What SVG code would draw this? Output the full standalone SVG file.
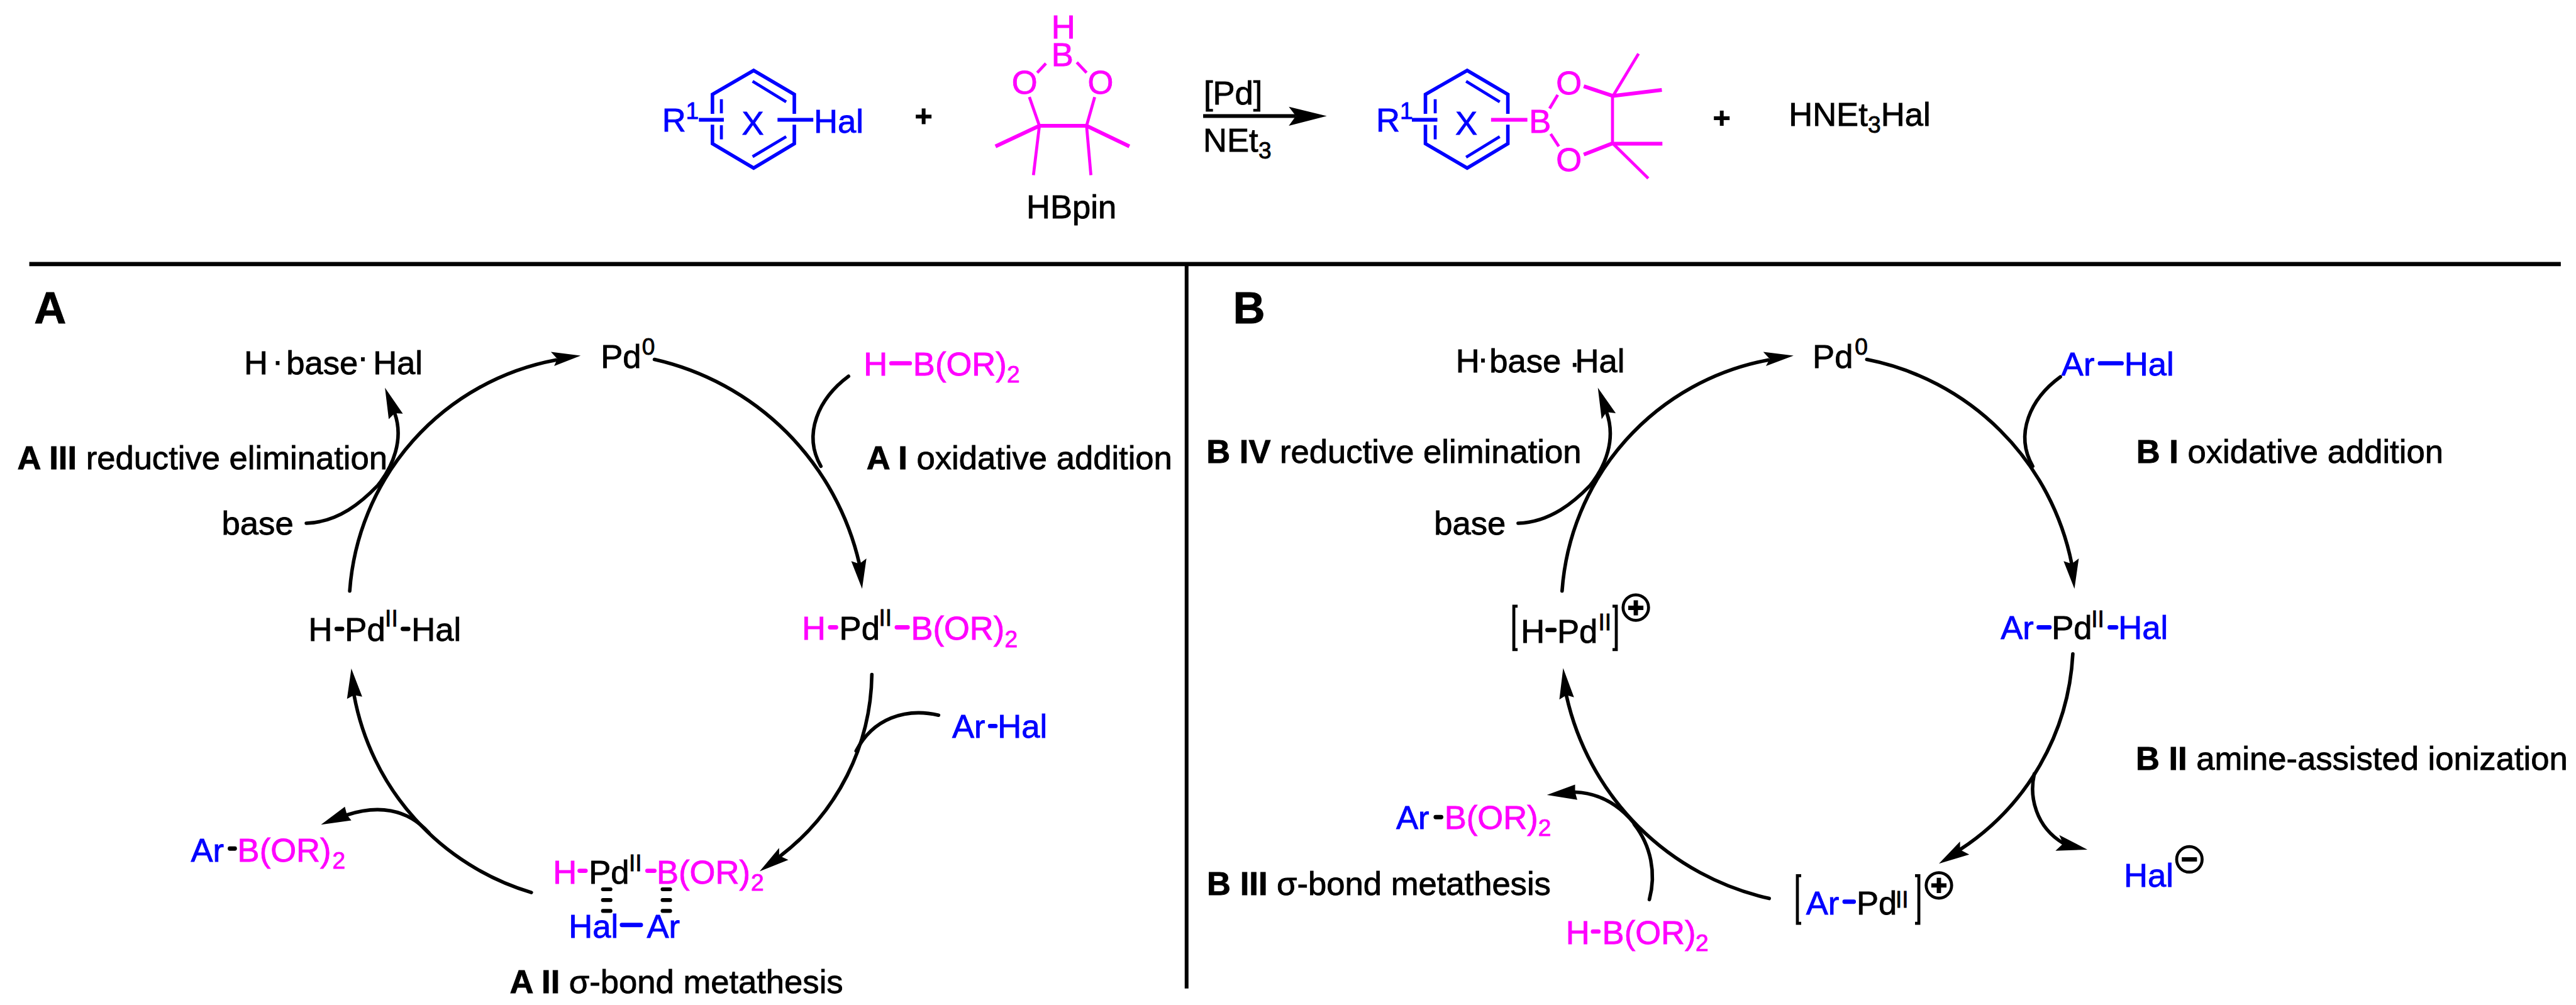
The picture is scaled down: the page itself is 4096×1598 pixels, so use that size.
<svg xmlns="http://www.w3.org/2000/svg" width="4096" height="1598" viewBox="0 0 4096 1598">
<style>
text{font-family:"Liberation Sans",Arial,sans-serif;font-size:61px;fill:#000;stroke:#000;stroke-width:1}
.bl{fill:#00f;stroke:#00f}.mg{fill:#f0f;stroke:#f0f}
.s{font-size:43px}
.h{font-size:82px;font-weight:bold}
.bd{font-weight:bold}
line,.ln{fill:none;stroke:#000;stroke-width:6;stroke-linecap:round}
.k{stroke:#000}.lB{stroke:#00f}.lM{stroke:#f0f}
line.th{stroke-width:7;stroke-linecap:butt}
line.tn{stroke-width:5.500;stroke-linecap:butt}
line.d{stroke-width:8;stroke-linecap:round}
.a{fill:none;stroke:#000;stroke-width:6.500;stroke-linecap:round}
.c{fill:none;stroke:#000;stroke-width:5.500}
.hd{fill:#000;stroke:none}
.r{fill:none;stroke:#00f;stroke-width:6.500;stroke-linejoin:miter}
.sg{fill:none;stroke:#000;stroke-width:8;stroke-linecap:butt}
.dh{fill:none;stroke:#000;stroke-width:7;stroke-linecap:round}
</style>
<g transform="scale(0.86213)">
<rect x="0" y="0" width="4751" height="1854" fill="#fff"/>

<g id="rules">
<line x1="54" y1="487" x2="4723" y2="487" style="stroke-width:8;stroke-linecap:butt"/>
<line x1="2188.500" y1="487" x2="2188.500" y2="1823" style="stroke-width:7;stroke-linecap:butt"/>
</g>

<g id="aryl-halide">
<path class="r" d="M1314 210V174L1390 130L1465 174V210M1314 230V265L1390 310L1465 265V230"/>
<line class="lB tn" x1="1388" y1="150" x2="1450" y2="188"/>
<line class="lB tn" x1="1388" y1="289" x2="1450" y2="252"/>
<line class="lB tn" x1="1330.500" y1="183" x2="1330.500" y2="209"/>
<line class="lB tn" x1="1330.500" y1="231" x2="1330.500" y2="257"/>
<line class="lB th" x1="1289" y1="221" x2="1335" y2="221"/>
<line class="lB th" x1="1434" y1="221" x2="1500" y2="221"/>
<text class="bl" x="1221" y="243">R</text><text class="bl s" x="1265" y="219">1</text>
<text class="bl" x="1368" y="248">X</text>
<text class="bl" x="1501" y="245">Hal</text>
</g>

<g id="plus-1"><line class="k th" x1="1689" y1="215" x2="1718" y2="215"/><line class="k th" x1="1703.500" y1="200" x2="1703.500" y2="229"/></g>

<g id="hbpin">
<text class="mg" x="1939" y="71">H</text>
<text class="mg" x="1939" y="122">B</text>
<text class="mg" x="1866" y="173">O</text>
<text class="mg" x="2006" y="173">O</text>
<line class="lM tn" x1="1929" y1="117" x2="1913" y2="134"/>
<line class="lM tn" x1="1986" y1="115" x2="2004" y2="134"/>
<line class="lM tn" x1="1898.500" y1="179" x2="1917" y2="232"/>
<line class="lM tn" x1="2019" y1="179" x2="2004" y2="232"/>
<line class="lM th" x1="1917" y1="232" x2="2004" y2="232"/>
<line class="lM th" x1="1917" y1="232" x2="1836" y2="270"/>
<line class="lM tn" x1="1917" y1="232" x2="1906" y2="323"/>
<line class="lM th" x1="2004" y1="232" x2="2083" y2="270"/>
<line class="lM tn" x1="2004" y1="232" x2="2012" y2="323"/>
<text x="1893" y="402">HBpin</text>
</g>

<g id="conditions">
<text x="2220" y="192">[Pd]</text>
<text x="2219" y="280">NEt</text><text class="s" x="2321" y="292">3</text>
</g>

<g id="boryl-arene">
<path class="r" d="M2629 210V174L2706 130L2781 174V210M2629 230V265L2706 310L2781 265V230"/>
<line class="lB tn" x1="2704" y1="150" x2="2766" y2="188"/>
<line class="lB tn" x1="2704" y1="290" x2="2766" y2="252"/>
<line class="lB tn" x1="2647" y1="183" x2="2647" y2="209"/>
<line class="lB tn" x1="2647" y1="231" x2="2647" y2="257"/>
<line class="lB th" x1="2604" y1="221" x2="2651" y2="221"/>
<line class="lM th" x1="2750" y1="221" x2="2817" y2="221"/>
<text class="bl" x="2538" y="243">R</text><text class="bl s" x="2582" y="219">1</text>
<text class="bl" x="2684" y="248">X</text>
<text class="mg" x="2820" y="245">B</text>
<text class="mg" x="2870" y="174">O</text>
<text class="mg" x="2870" y="316">O</text>
<line class="lM tn" x1="2873" y1="175" x2="2858" y2="200"/>
<line class="lM tn" x1="2860" y1="247" x2="2875" y2="270"/>
<line class="lM th" x1="2921" y1="159" x2="2975" y2="177"/>
<line class="lM th" x1="2921" y1="285" x2="2975" y2="264"/>
<line class="lM tn" x1="2974" y1="177" x2="2974" y2="264"/>
<line class="lM tn" x1="2975" y1="177" x2="3022" y2="99"/>
<line class="lM th" x1="2975" y1="177" x2="3065" y2="166"/>
<line class="lM th" x1="2975" y1="265" x2="3066" y2="265"/>
<line class="lM tn" x1="2975" y1="265" x2="3040" y2="329"/>
</g>

<g id="plus-2"><line class="k th" x1="3161" y1="218" x2="3190" y2="218"/><line class="k th" x1="3175.500" y1="204" x2="3175.500" y2="232"/></g>

<g id="hnet3hal"><text x="3299" y="232">HNEt</text><text class="s" x="3445" y="245">3</text><text x="3469" y="232">Hal</text></g>

<g id="connectors">
<line class="k th" x1="2219" y1="214" x2="2390" y2="214"/>
<polygon class="hd" points="2447,214 2377,197 2390,214 2377,232"/>

<path class="a" d="M1207 663A501 501 0 0 1 1585 1040"/>
<polygon class="hd" points="1590,1086 1570,1035 1585,1040 1598,1030"/>
<path class="a" d="M1565 694C1510 735 1480 800 1514 860"/>
<path class="a" d="M1608 1244A428 428 0 0 1 1440 1578"/>
<polygon class="hd" points="1401,1607 1437,1564 1437,1578 1454,1586"/>
<path class="a" d="M1731 1319C1670 1305 1610 1325 1579 1385"/>
<path class="a" d="M980 1646A468 468 0 0 1 653 1282"/>
<polygon class="hd" points="648,1233 668,1285 653,1282 640,1289"/>
<path class="a" d="M791 1536C750 1490 695 1485 640 1503"/>
<polygon class="hd" points="592,1521 636,1488 640,1503 648,1513"/>
<path class="a" d="M645 1090A467 467 0 0 1 1025 664"/>
<polygon class="hd" points="1071,656 1016,649 1028,662 1022,675"/>
<path class="a" d="M565 965C625 963 668 925 697 895C725 860 745 810 728 762"/>
<polygon class="hd" points="710,715 743,763 728,762 717,773"/>

<path class="a" d="M3443 663A480 480 0 0 1 3821 1040"/>
<polygon class="hd" points="3826,1086 3806,1035 3821,1040 3834,1030"/>
<path class="a" d="M3800 695C3745 735 3715 800 3749 860"/>
<path class="a" d="M3823 1206A460 460 0 0 1 3615 1567"/>
<polygon class="hd" points="3576,1593 3615,1552 3615,1567 3632,1576"/>
<path class="a" d="M3752 1427C3742 1470 3755 1525 3805 1555"/>
<polygon class="hd" points="3850,1567 3798,1540 3805,1556 3791,1569"/>
<path class="a" d="M3263 1657A493 493 0 0 1 2889 1283"/>
<polygon class="hd" points="2883,1232 2903,1286 2889,1282 2876,1290"/>
<path class="a" d="M3021 1528C2990 1485 2950 1463 2905 1461"/>
<polygon class="hd" points="2853,1466 2905,1447 2905,1461 2909,1475"/>
<path class="a" d="M3042 1659C3055 1610 3045 1560 3014 1520"/>
<path class="a" d="M2881 1090A467 467 0 0 1 3261 664"/>
<polygon class="hd" points="3308,656 3252,649 3264,662 3257,675"/>
<path class="a" d="M2800 965C2860 963 2904 925 2933 895C2961 860 2981 810 2963 760"/>
<polygon class="hd" points="2947,715 2980,762 2963,760 2954,773"/>
</g>

<g id="label-A"><text class="h" x="63" y="596">A</text></g>
<g id="a-pd0"><text x="1108" y="678">Pd</text><text class="s" x="1184" y="654">0</text></g>
<g id="a-hbaseh"><text x="450" y="690">H</text><text x="502" y="686">·</text><text x="528" y="690">base</text><text x="659" y="679">·</text><text x="688" y="690">Hal</text></g>
<g id="a-hb"><text class="mg" x="1593" y="692">H</text><line class="lM d" x1="1644" y1="670" x2="1678" y2="670"/><text class="mg" x="1684" y="692">B(OR)</text><text class="mg s" x="1857" y="705">2</text></g>
<g id="a-step1"><text x="1598" y="865"><tspan class="bd">A I</tspan> oxidative addition</text></g>
<g id="a-step3"><text x="32" y="865"><tspan class="bd">A III</tspan> reductive elimination</text></g>
<g id="a-base"><text x="409" y="986">base</text></g>
<g id="a-hpdhal"><text x="569" y="1182">H</text><line class="k d" x1="621" y1="1160" x2="631" y2="1160"/><text x="636" y="1182">Pd</text><text class="s" x="710" y="1155">II</text><line class="k d" x1="743" y1="1160" x2="753" y2="1160"/><text x="759" y="1182">Hal</text></g>
<g id="a-hpdb"><text class="mg" x="1479" y="1180">H</text><line class="lM d" x1="1531" y1="1157" x2="1542" y2="1157"/><text x="1548" y="1180">Pd</text><text class="s" x="1621" y="1154">II</text><line class="lM d" x1="1654" y1="1157" x2="1674" y2="1157"/><text class="mg" x="1680" y="1180">B(OR)</text><text class="mg s" x="1853" y="1193">2</text></g>
<g id="a-arhal"><text class="bl" x="1756" y="1361">Ar</text><line class="lB d" x1="1826" y1="1339" x2="1836" y2="1339"/><text class="bl" x="1840" y="1361">Hal</text></g>
<g id="a-arb"><text class="bl" x="352" y="1589">Ar</text><line class="k d" x1="424" y1="1565" x2="433" y2="1565"/><text class="mg" x="438" y="1589">B(OR)</text><text class="mg s" x="613" y="1602">2</text></g>
<g id="a-ts">
<text class="mg" x="1020" y="1630">H</text><line class="lM d" x1="1069" y1="1606" x2="1080" y2="1606"/>
<text x="1086" y="1630">Pd</text><text class="s" x="1160" y="1606">II</text><line class="lM d" x1="1194" y1="1606" x2="1207" y2="1606"/>
<text class="mg" x="1211" y="1630">B(OR)</text><text class="mg s" x="1385" y="1643">2</text>
<path d="M1112 1640h14M1112 1660h14M1112 1680h14M1222 1640h14M1222 1660h14M1222 1680h14" class="dh"/>
<text class="bl" x="1049" y="1729">Hal</text><line class="lB d" x1="1147" y1="1706" x2="1182" y2="1706"/><text class="bl" x="1193" y="1729">Ar</text>
</g>
<g id="a-step2"><text x="940" y="1832"><tspan class="bd">A II</tspan> σ-bond metathesis</text></g>

<g id="label-B"><text class="h" x="2274" y="596">B</text></g>
<g id="b-pd0"><text x="3343" y="678">Pd</text><text class="s" x="3421" y="654">0</text></g>
<g id="b-hbaseh"><text x="2685" y="687">H</text><text x="2725" y="681">·</text><text x="2747" y="687">base</text><text x="2894" y="689">·</text><text x="2905" y="687">Hal</text></g>
<g id="b-arhal"><text class="bl" x="3802" y="692">Ar</text><line class="lB d" x1="3873" y1="670" x2="3913" y2="670"/><text class="bl" x="3918" y="692">Hal</text></g>
<g id="b-step1"><text x="3940" y="854"><tspan class="bd">B I</tspan> oxidative addition</text></g>
<g id="b-step4"><text x="2225" y="854"><tspan class="bd">B IV</tspan> reductive elimination</text></g>
<g id="b-base"><text x="2645" y="986">base</text></g>
<g id="b-hpd">
<path class="c" d="M2799 1118H2792V1198H2799M2974 1118H2981V1198H2974"/>
<text x="2805" y="1186">H</text><line class="k d" x1="2854" y1="1162" x2="2867" y2="1162"/><text x="2872" y="1186">Pd</text><text class="s" x="2948" y="1162">II</text>
<circle class="c" cx="3017" cy="1120.500" r="23.500"/><path d="M3003 1121h28M3017 1107v28" class="sg"/>
</g>
<g id="b-arpdhal"><text class="bl" x="3690" y="1179">Ar</text><line class="lB d" x1="3760" y1="1157" x2="3780" y2="1157"/><text x="3784" y="1179">Pd</text><text class="s" x="3857" y="1157">II</text><line class="lB d" x1="3891" y1="1157" x2="3903" y2="1157"/><text class="bl" x="3907" y="1179">Hal</text></g>
<g id="b-step2"><text x="3939" y="1420"><tspan class="bd">B II</tspan> amine-assisted ionization</text></g>
<g id="b-arb"><text class="bl" x="2575" y="1529">Ar</text><line class="k d" x1="2648" y1="1507" x2="2658" y2="1507"/><text class="mg" x="2664" y="1529">B(OR)</text><text class="mg s" x="2837" y="1542">2</text></g>
<g id="b-hal"><text class="bl" x="3917" y="1636">Hal</text><circle class="c" cx="4038" cy="1585" r="23.500"/><path d="M4024 1585h28" class="sg"/></g>
<g id="b-step3"><text x="2226" y="1650"><tspan class="bd">B III</tspan> σ-bond metathesis</text></g>
<g id="b-arpd">
<path class="c" d="M3322 1615H3315V1703H3322M3532 1615H3539V1703H3532"/>
<text class="bl" x="3331" y="1687">Ar</text><line class="lB d" x1="3402" y1="1663" x2="3419" y2="1663"/><text x="3424" y="1687">Pd</text><text class="s" x="3496" y="1674">II</text>
<circle class="c" cx="3576" cy="1633" r="23.500"/><path d="M3562 1633h28M3576 1619v28" class="sg"/>
</g>
<g id="b-hb"><text class="mg" x="2888" y="1741">H</text><line class="lM d" x1="2938" y1="1718" x2="2948" y2="1718"/><text class="mg" x="2955" y="1741">B(OR)</text><text class="mg s" x="3127" y="1754">2</text></g>
</g>
</svg>
